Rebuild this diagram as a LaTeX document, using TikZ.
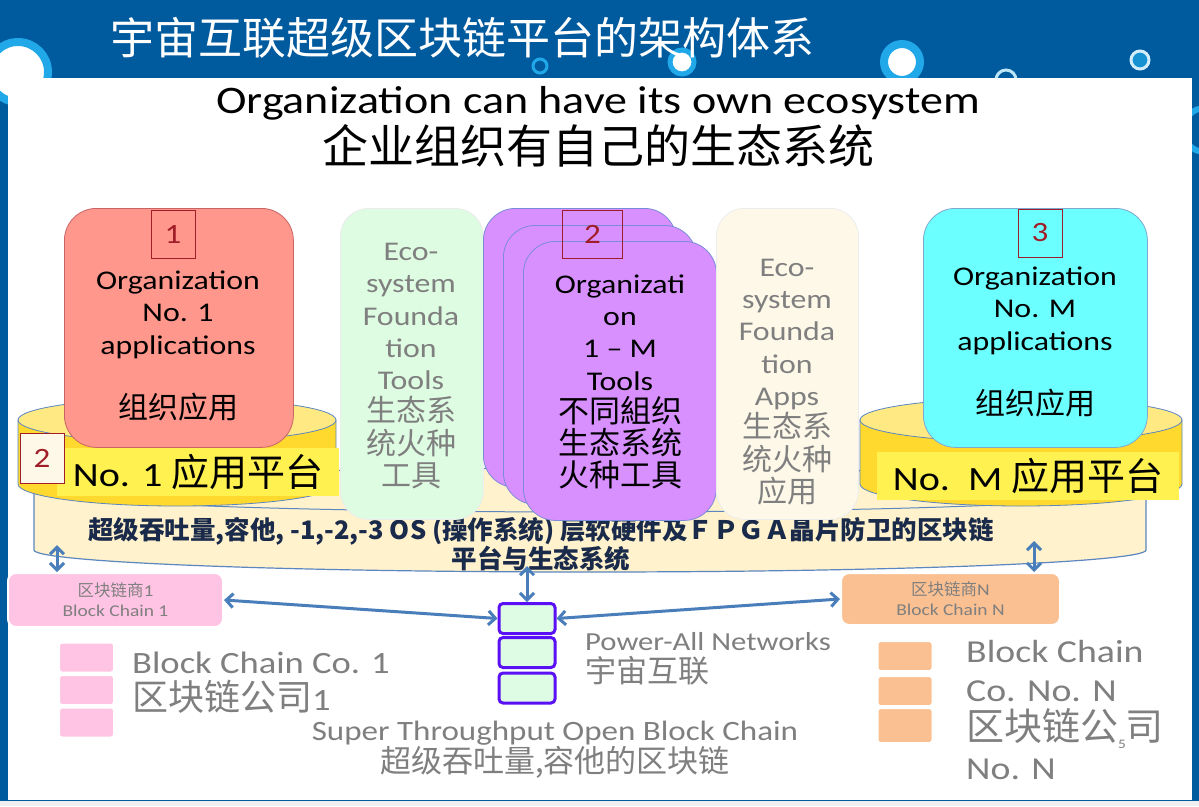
\documentclass[tikz,border=0pt]{standalone}
\usepackage{fontspec}
\setmainfont{Carlito}[FakeStretch=1.18]
\newfontfamily\cjk{Noto Sans CJK SC}
\usetikzlibrary{arrows.meta}

\newcommand\fsz[1]{\fontsize{#1}{#1}\selectfont}

\definecolor{bandblue}{HTML}{005A9E}
\definecolor{ringcyan}{HTML}{20A8E8}
\definecolor{orgred}{HTML}{FF978C}
\definecolor{orgline}{HTML}{C86464}
\definecolor{orgcyan}{HTML}{6CFFFF}
\definecolor{cyanline}{HTML}{7FA7D0}
\definecolor{ecogreen}{HTML}{DEFCE2}
\definecolor{ecocream}{HTML}{FEF8E9}
\definecolor{toolpurple}{HTML}{D890FF}
\definecolor{toolline}{HTML}{7A8CD8}
\definecolor{numred}{HTML}{A01E28}
\definecolor{cyltop}{HTML}{FFE983}
\definecolor{cylside}{HTML}{FFD92E}
\definecolor{labelyellow}{HTML}{FFF250}
\definecolor{platfill}{HTML}{FFF2CC}
\definecolor{edgeblue}{HTML}{5B86C0}
\definecolor{arrowblue}{HTML}{4A7EBB}
\definecolor{chainpurple}{HTML}{5A10F5}
\definecolor{chaingreen}{HTML}{DEFBE3}
\definecolor{bcpink}{HTML}{FFC3E3}
\definecolor{bcorange}{HTML}{FAC092}
\definecolor{greytext}{HTML}{7F7F7F}
\definecolor{navytext}{HTML}{1A2A4A}

\tikzset{
  txt/.style={inner sep=0pt, align=center},
  card/.style={draw, rounded corners=32pt, anchor=north west, inner sep=0pt, line width=0.8pt},
  numbox/.style={draw=numred, text=numred, minimum width=44pt, minimum height=48pt, inner sep=0pt, font=\fsz{28}},
  tag/.style={fill=labelyellow, anchor=north west, inner sep=0pt, minimum height=48pt},
  bcbox/.style={draw=white, line width=2pt, rounded corners=8pt, text=greytext, align=center, inner sep=0pt,
    font=\fontsize{16.5}{20}\selectfont},
  blk/.style={draw=chainpurple, fill=chaingreen, line width=3pt, rounded corners=4pt,
    minimum width=56pt, minimum height=30pt, inner sep=0pt},
  sq/.style={draw=white, line width=2pt, rounded corners=3pt, minimum width=55pt, inner sep=0pt},
  dlink/.style={<->, >={Straight Barb[length=7pt,width=14pt]}, arrowblue, line width=3pt}
}

\begin{document}
\begin{tikzpicture}[x=1pt,y=-1pt]
\useasboundingbox (0,0) rectangle (1199,806);

% blue slide and bubbles
\fill[bandblue] (0,0) rectangle (1199,806);
\filldraw[white, draw=ringcyan, line width=8pt] (18,72) circle[radius=30pt];
\draw[ringcyan, line width=3pt] (540,66) circle[radius=7pt];
\filldraw[white, draw=ringcyan, line width=5pt] (682,62) circle[radius=12pt];
\filldraw[white, draw=ringcyan, line width=8pt] (902,62) circle[radius=18pt];
\draw[white!70!ringcyan, line width=3pt] (1006,80) circle[radius=10pt];
\filldraw[ringcyan!70!bandblue, draw=white!80!ringcyan, line width=3pt] (1140,60) circle[radius=9pt];
\draw[ringcyan, line width=6pt] (1205,130) circle[radius=22pt];
\fill[white] (8,78) rectangle (1192,800);
\fill[gray!12] (0,801) rectangle (1199,806);

\node[txt, text=white, font=\cjk\fsz{44}] (title) at (462,38) {宇宙互联超级区块链平台的架构体系};
\node[txt, font=\fsz{39}] (head) at (598,103) {Organization can have its own ecosystem};
\node[txt, font=\cjk\fsz{46}] (headcn) at (598,146) {企业组织有自己的生态系统};

% platform disk
\filldraw[platfill, draw=edgeblue, line width=1.2pt] (34,490) -- (34,550)
  arc[start angle=180, end angle=360, x radius=556pt, y radius=22pt] -- (1146,490)
  arc[start angle=0, end angle=180, x radius=556pt, y radius=22pt] -- cycle;
\draw[edgeblue, line width=1pt] (34,490) arc[start angle=180, end angle=360, x radius=556pt, y radius=22pt];
\node[txt, text=navytext, font=\cjk\bfseries\fontsize{25.5}{25}\selectfont] (plattext) at (541,544)
  {超级吞吐量,容他, -1,-2,-3 OS (操作系统) 层软硬件及ＦＰＧＡ晶片防卫的区块链\\平台与生态系统};

% application platforms
\filldraw[cylside, draw=edgeblue, line width=0.8pt] (18,420) -- (18,484)
  arc[start angle=180, end angle=360, x radius=159pt, y radius=22pt] -- (336,420) -- cycle;
\filldraw[cyltop, draw=edgeblue, line width=0.8pt] (177,420) ellipse[x radius=159pt, y radius=22pt];
\filldraw[cylside, draw=edgeblue, line width=0.8pt] (860,420) -- (860,484)
  arc[start angle=180, end angle=360, x radius=161pt, y radius=22pt] -- (1182,420) -- cycle;
\filldraw[cyltop, draw=edgeblue, line width=0.8pt] (1021,420) ellipse[x radius=161pt, y radius=22pt];

% organization cards
\node[card, fill=orgred, draw=orgline, minimum width=229pt, minimum height=239pt] (org1) at (64,208) {};
\node[card, fill=ecogreen, draw=gray!15, rounded corners=28pt, minimum width=143pt, minimum height=311pt] (ecotools) at (340,208) {};
\node[card, fill=toolpurple, draw=toolline, minimum width=193pt, minimum height=279pt] (tools3) at (483,208) {};
\node[card, fill=toolpurple, draw=toolline, minimum width=193pt, minimum height=279pt] (tools2) at (503,225) {};
\node[card, fill=toolpurple, draw=toolline, minimum width=193pt, minimum height=279pt] (tools1) at (523,241) {};
\node[card, fill=ecocream, draw=gray!15, rounded corners=28pt, minimum width=142pt, minimum height=311pt] (ecoapps) at (716,208) {};
\node[card, fill=orgcyan, draw=cyanline, minimum width=224pt, minimum height=239pt] (orgM) at (923,208) {};

\node[numbox] (n1) at (173,234) {1};
\node[numbox, minimum width=60pt] (n2) at (592.5,234) {2};
\node[numbox] (n3) at (1040,233) {3};

\node[txt, font=\fontsize{27}{32.5}\selectfont] (org1text) at (178,346)
  {Organization\\No. 1\\applications\\[32pt]{\cjk\fsz{30}组织应用}};
\node[txt, text=greytext, font=\fontsize{27}{32.3}\selectfont] (ecotoolstext) at (411,366)
  {Eco-\\system\\Founda\\tion\\Tools\\{\cjk\fsz{30}生态系}\\{\cjk\fsz{30}统火种}\\{\cjk\fsz{30}工具}};
\node[txt, font=\fontsize{27}{32.2}\selectfont] (toolstext) at (620,382)
  {Organizati\\on\\1 – M\\Tools\\{\cjk\fsz{31}不同組织}\\{\cjk\fsz{31}生态系统}\\{\cjk\fsz{31}火种工具}};
\node[txt, text=greytext, font=\fontsize{27}{32.3}\selectfont] (ecoappstext) at (787,382)
  {Eco-\\system\\Founda\\tion\\Apps\\{\cjk\fsz{30}生态系}\\{\cjk\fsz{30}统火种}\\{\cjk\fsz{30}应用}};
\node[txt, font=\fontsize{27}{32.5}\selectfont] (orgMtext) at (1035,342)
  {Organization\\No. M\\applications\\[32pt]{\cjk\fsz{30}组织应用}};

% platform labels
\node[tag, minimum width=282pt, font=\fsz{34}] (tag1) at (57,448) {No. 1 {\cjk\fsz{38}应用平台}};
\node[numbox, fill=ecocream, minimum height=50pt] (n2b) at (42,458) {2};
\node[tag, minimum width=302pt, font=\fsz{34}] (tagM) at (877,452) {No.\ \ M {\cjk\fsz{38}应用平台}};

% block chains
\node[bcbox, fill=bcpink, minimum width=215pt, minimum height=54pt] (bc1) at (115.5,600)
  {{\cjk 区块链商}1\\Block Chain 1};
\node[bcbox, fill=bcorange, minimum width=219pt, minimum height=52pt] (bcN) at (950.5,599)
  {{\cjk 区块链商}N\\Block Chain N};
\node[blk] (blk1) at (527,618.5) {};
\node[blk] (blk2) at (527,652.5) {};
\node[blk] (blk3) at (527,688) {};

\coordinate (pl1) at (57,545);
\coordinate (pl2) at (527,566);
\coordinate (pl3) at (1034,541);
\draw[dlink] (pl1) -- (pl1 |- bc1.north);
\draw[dlink] (pl2) -- (blk1.north);
\draw[dlink] (pl3) -- (pl3 |- bcN.north);
\draw[dlink] (bc1.east) -- (blk1.west);
\draw[dlink] (blk1.east) -- (bcN.west);

% legends
\node[sq, fill=bcpink, minimum height=30pt] (pk1) at (86.5,657.5) {};
\node[sq, fill=bcpink, minimum height=30pt] (pk2) at (86.5,690) {};
\node[sq, fill=bcpink, minimum height=30pt] (pk3) at (86.5,722.5) {};
\node[sq, fill=bcorange, minimum height=30pt] (or1) at (905,656) {};
\node[sq, fill=bcorange, minimum height=30pt] (or2) at (905,691) {};
\node[sq, fill=bcorange, minimum height=35pt] (or3) at (905,725.5) {};

\node[txt, anchor=west, align=left, text=greytext, font=\fontsize{31}{37}\selectfont] (co1) at (132,683)
  {Block Chain Co. 1\\{\cjk\fsz{36}区块链公司}1};
\node[txt, anchor=west, align=left, text=greytext, font=\fontsize{32}{38.7}\selectfont] (coN) at (966,710)
  {Block Chain\\Co. No. N\\{\cjk\fsz{38}区块链公}{\fsz{13}\raisebox{-8pt}{5}}{\cjk\fsz{38}司}\\No. N};
\node[txt, anchor=west, align=left, text=greytext, font=\fontsize{26}{32}\selectfont] (pan) at (585,659)
  {Power-All Networks\\{\cjk\fsz{31}宇宙互联}};
\node[txt, text=greytext, font=\fontsize{28}{31}\selectfont] (stob) at (555,750)
  {Super Throughput Open Block Chain\\{\cjk\fsz{31}超级吞吐量,容他的区块链}};
\end{tikzpicture}
\end{document}
